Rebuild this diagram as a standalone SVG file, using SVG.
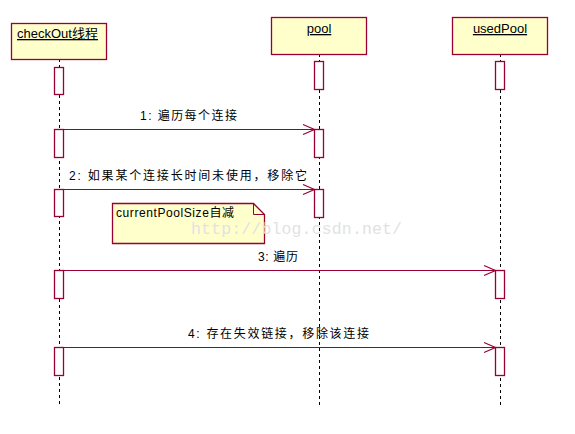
<svg xmlns="http://www.w3.org/2000/svg" width="575" height="434" viewBox="0 0 575 434">
<style>
.box{fill:#FFFFCC;stroke:#990033;stroke-width:1.3}
.act{fill:#FFFFFF;stroke:#990033;stroke-width:1.3}
.life{stroke:#000;stroke-width:1;stroke-dasharray:3,3}
.msg{stroke:#990033;stroke-width:1.2;fill:none}
.t{font-family:"Liberation Sans","Noto Sans CJK SC",sans-serif;font-size:12px;fill:#000}
.h{font-family:"Liberation Sans","Noto Sans CJK SC",sans-serif;font-size:13px;fill:#000;text-decoration:underline}
.wm{font-family:"Liberation Mono",monospace;font-size:16.5px;fill:#e2e2e2}
</style>
<rect width="575" height="434" fill="#fff"/>
<g id="lifelines">
<line class="life" x1="59.5" y1="59" x2="59.5" y2="406"/>
<line class="life" x1="319.5" y1="54" x2="319.5" y2="406"/>
<line class="life" x1="500.5" y1="54" x2="500.5" y2="406"/>
</g>
<g id="checkOut">
<rect class="box" x="11.5" y="23.5" width="95" height="36"/>
<text class="h" x="17" y="38">checkOut线程</text>
</g>
<g id="pool">
<rect class="box" x="271.5" y="17.5" width="95" height="37"/>
<text class="h" x="319" y="33" text-anchor="middle">pool</text>
</g>
<g id="usedPool">
<rect class="box" x="452.5" y="17.5" width="95" height="37"/>
<text class="h" x="500" y="33" text-anchor="middle">usedPool</text>
</g>
<g id="activations">
<rect class="act" x="54.5" y="67.5" width="9" height="27"/>
<rect class="act" x="314.5" y="61.5" width="9" height="28"/>
<rect class="act" x="495.5" y="61.5" width="9" height="28"/>
<rect class="act" x="54.5" y="129.5" width="9" height="28"/>
<rect class="act" x="314.5" y="129.5" width="9" height="28"/>
<rect class="act" x="54.5" y="189.5" width="9" height="27"/>
<rect class="act" x="314.5" y="189.5" width="9" height="28"/>
<rect class="act" x="54.5" y="270.5" width="9" height="28"/>
<rect class="act" x="495.5" y="270.5" width="9" height="28"/>
<rect class="act" x="54.5" y="347.5" width="9" height="28"/>
<rect class="act" x="495.5" y="347.5" width="9" height="28"/>
</g>
<g id="connectors">
<path class="msg" d="M63.5 129.5 H314.5 M303 124.5 L314.5 129.5 L303 134.5"/>
<path class="msg" d="M63.5 189.5 H314.5 M303 184.5 L314.5 189.5 L303 194.5"/>
<path class="msg" d="M63.5 270.5 H495.5 M484 265.5 L495.5 270.5 L484 275.5"/>
<path class="msg" d="M63.5 347.5 H495.5 M484 342.5 L495.5 347.5 L484 352.5"/>
<text class="t" x="140" y="120" textLength="97" lengthAdjust="spacing">1: 遍历每个连接</text>
<text class="t" x="69" y="180" textLength="238" lengthAdjust="spacing">2: 如果某个连接长时间未使用，移除它</text>
<text class="t" x="258" y="261" textLength="40" lengthAdjust="spacing">3: 遍历</text>
<text class="t" x="188" y="338" textLength="181" lengthAdjust="spacing">4: 存在失效链接，移除该连接</text>
</g>
<g id="note">
<path class="box" d="M112.5 203.5 H253.5 L264.5 214.5 V243.5 H112.5 Z"/>
<path d="M253.5 203.5 V214.5 H264.5" fill="none" stroke="#990033" stroke-width="1"/>
<text class="t" x="116" y="217" textLength="118" lengthAdjust="spacing">currentPoolSize自减</text>
</g>
<text class="wm" x="191" y="234" textLength="211" lengthAdjust="spacing">http://blog.csdn.net/</text>
</svg>
